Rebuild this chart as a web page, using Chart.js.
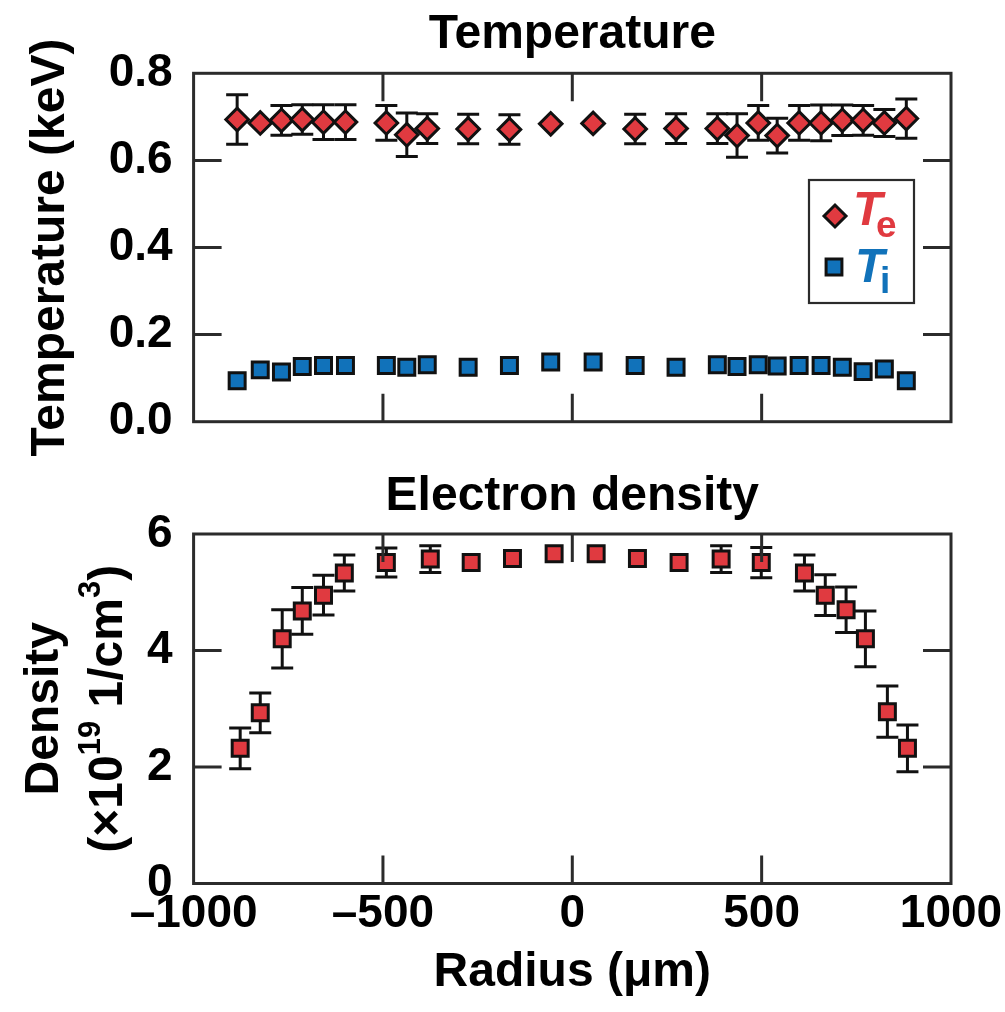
<!DOCTYPE html>
<html>
<head>
<meta charset="utf-8">
<script src="https://cdn.jsdelivr.net/npm/chart.js@4.4.0/dist/chart.umd.min.js"></script>
<style>
  html, body { margin: 0; padding: 0; background: #fff; }
  #wrap { position: relative; width: 1005px; height: 1012px; overflow: hidden; }
  canvas { position: absolute; left: 0; }
  #tempCanvas { top: 0; }
  #densCanvas { top: 460px; }
</style>
</head>
<body>
<div id="wrap">
  <canvas id="tempCanvas" width="1005" height="466"></canvas>
  <canvas id="densCanvas" width="1005" height="552"></canvas>
</div>
<script>
// ---- Temperature profile (keV) ----
const tempRadius = [-885, -824, -768, -713, -657, -599, -491, -437, -383, -275, -166, -57,
                    55, 166, 274, 383, 435, 491, 541, 599, 657, 713, 768, 824, 882];
const teValues = [0.694, 0.686, 0.692, 0.694, 0.688, 0.688, 0.686, 0.659, 0.673, 0.672, 0.671, 0.684,
                  0.685, 0.672, 0.673, 0.673, 0.657, 0.686, 0.657, 0.686, 0.686, 0.692, 0.692, 0.686, 0.696];
const teErrors = [0.057, null, 0.034, 0.034, 0.040, 0.040, 0.040, 0.050, 0.034, 0.034, 0.034, null,
                  null, 0.034, 0.034, 0.034, 0.050, 0.040, 0.040, 0.040, 0.041, 0.035, 0.034, 0.031, 0.045];
const tiValues = [0.094, 0.119, 0.114, 0.127, 0.129, 0.129, 0.129, 0.125, 0.131, 0.125, 0.129, 0.137,
                  0.137, 0.129, 0.125, 0.131, 0.127, 0.131, 0.128, 0.129, 0.129, 0.125, 0.115, 0.121, 0.094];

// ---- Electron density profile (x1e19 1/cm^3) ----
const densRadius = [-877, -824, -766, -713, -657, -602, -491, -375, -267, -158, -48,
                    63, 172, 282, 393, 499, 613, 668, 723, 774, 832, 885];
const densValues = [2.32, 2.93, 4.20, 4.68, 4.95, 5.33, 5.51, 5.57, 5.51, 5.58, 5.66,
                    5.66, 5.58, 5.51, 5.57, 5.51, 5.33, 4.95, 4.70, 4.20, 2.95, 2.32];
const densErrors = [0.35, 0.34, 0.50, 0.40, 0.34, 0.31, 0.25, 0.23, null, null, null,
                    null, null, null, 0.23, 0.26, 0.31, 0.35, 0.39, 0.48, 0.44, 0.40];

// ---- Axis ticks ----
const radiusTicks = [-1000, -500, 0, 500, 1000];
const tempTicks = [0, 0.2, 0.4, 0.6, 0.8];
const densTicks = [0, 2, 4, 6];

// Unit line under "Density": [text, isSuperscript]
const densUnitParts = [['(\u00D710', false], ['19', true], [' 1/cm', false], ['3', true], [')', false]];

const RED = '#E03A40';
const BLUE = '#1172BA';
const FRAME = '#2b2b2b';
const FONT = '"Liberation Sans", Arial, Helvetica, sans-serif';
const FS = 48;      // titles
const TS = 46;      // tick labels

Chart.defaults.font.family = FONT;
Chart.defaults.color = '#000';

const toPoints = (xs, ys) => xs.map((x, i) => ({ x: x, y: ys[i] }));
const fixedTicks = list => scale => { scale.ticks = list.map(v => ({ value: v })); };
const radiusLabel = v => (v < 0 ? '\u2013' + Math.abs(v) : String(v));

// Error bars under the markers, then the boxed frame with inward ticks on all sides.
const frameAndErrors = {
  id: 'frameAndErrors',
  beforeDatasetsDraw(chart) {
    const ctx = chart.ctx;
    const ys = chart.scales.y;
    chart.data.datasets.forEach((ds, i) => {
      if (!ds.errors) return;
      const meta = chart.getDatasetMeta(i);
      ctx.save();
      ctx.strokeStyle = '#111';
      ctx.lineWidth = 3;
      ds.data.forEach((p, j) => {
        const e = ds.errors[j];
        if (e == null) return;
        const x = meta.data[j].x;
        const yTop = ys.getPixelForValue(p.y + e);
        const yBot = ys.getPixelForValue(p.y - e);
        const cap = 11;
        ctx.beginPath();
        ctx.moveTo(x, yTop); ctx.lineTo(x, yBot);
        ctx.moveTo(x - cap, yTop); ctx.lineTo(x + cap, yTop);
        ctx.moveTo(x - cap, yBot); ctx.lineTo(x + cap, yBot);
        ctx.stroke();
      });
      ctx.restore();
    });
  },
  afterDraw(chart) {
    const ctx = chart.ctx;
    const a = chart.chartArea;
    const len = 28;
    ctx.save();
    ctx.strokeStyle = FRAME;
    ctx.lineWidth = 3;
    ctx.strokeRect(a.left, a.top, a.right - a.left, a.bottom - a.top);
    ctx.beginPath();
    const xs = chart.scales.x, ys = chart.scales.y;
    xs.ticks.forEach(t => {
      if (t.value <= xs.min || t.value >= xs.max) return;
      const px = xs.getPixelForValue(t.value);
      ctx.moveTo(px, a.bottom); ctx.lineTo(px, a.bottom - len);
      ctx.moveTo(px, a.top); ctx.lineTo(px, a.top + len);
    });
    ys.ticks.forEach(t => {
      if (t.value <= ys.min || t.value >= ys.max) return;
      const py = ys.getPixelForValue(t.value);
      ctx.moveTo(a.left, py); ctx.lineTo(a.left + len, py);
      ctx.moveTo(a.right, py); ctx.lineTo(a.right - len, py);
    });
    ctx.stroke();
    ctx.restore();
  }
};

// Boxed key for the two temperature series, with subscripted symbols.
const tempKey = {
  id: 'tempKey',
  afterDraw(chart) {
    const ctx = chart.ctx;
    ctx.save();
    ctx.strokeStyle = FRAME;
    ctx.lineWidth = 2.2;
    ctx.strokeRect(809, 180, 105, 123);

    const ds = chart.data.datasets;
    ctx.fillStyle = ds[0].backgroundColor;
    ctx.strokeStyle = '#111';
    ctx.lineWidth = 3;
    Chart.helpers.drawPoint(ctx, { pointStyle: 'rectRot', radius: 11, borderWidth: 3, rotation: 0 }, 835, 216);
    ctx.fillStyle = ds[1].backgroundColor;
    Chart.helpers.drawPoint(ctx, { pointStyle: 'rect', radius: 11.2, borderWidth: 3, rotation: 0 }, 834, 267);

    ctx.textBaseline = 'alphabetic';
    ctx.textAlign = 'left';
    ctx.fillStyle = RED;
    ctx.font = 'italic bold 48px ' + FONT;
    ctx.fillText('T', 853, 225);
    ctx.font = 'bold 37px ' + FONT;
    ctx.fillText('e', 876, 237);
    ctx.fillStyle = BLUE;
    ctx.font = 'italic bold 48px ' + FONT;
    ctx.fillText('T', 855, 282);
    ctx.font = 'bold 37px ' + FONT;
    ctx.fillText('i', 880, 293);
    ctx.restore();
  }
};

// Second line of the density axis title, rotated, with true superscripts.
const densUnitTitle = {
  id: 'densUnitTitle',
  afterDraw(chart) {
    const ctx = chart.ctx;
    const a = chart.chartArea;
    const mainFont = 'bold ' + FS + 'px ' + FONT;
    const supSize = Math.round(FS * 0.64);
    const supFont = 'bold ' + supSize + 'px ' + FONT;
    const rise = 22;
    let total = 0;
    densUnitParts.forEach(([t, sup]) => {
      ctx.font = sup ? supFont : mainFont;
      total += ctx.measureText(t).width;
    });
    ctx.save();
    ctx.translate(122, (a.top + a.bottom) / 2);
    ctx.rotate(-Math.PI / 2);
    ctx.fillStyle = '#000';
    ctx.textBaseline = 'alphabetic';
    ctx.textAlign = 'left';
    let x = -total / 2;
    densUnitParts.forEach(([t, sup]) => {
      ctx.font = sup ? supFont : mainFont;
      ctx.fillText(t, x, sup ? -rise : 0);
      x += ctx.measureText(t).width;
    });
    ctx.restore();
  }
};

const markerBase = {
  borderColor: '#111',
  borderWidth: 3,
  hoverBorderWidth: 3,
  showLine: false
};

new Chart(document.getElementById('tempCanvas'), {
  type: 'scatter',
  data: {
    datasets: [
      Object.assign({}, markerBase, {
        label: 'Te',
        data: toPoints(tempRadius, teValues),
        errors: teErrors,
        backgroundColor: RED,
        pointStyle: 'rectRot',
        pointRadius: 11.3,
        pointHoverRadius: 11.3
      }),
      Object.assign({}, markerBase, {
        label: 'Ti',
        data: toPoints(tempRadius, tiValues),
        backgroundColor: BLUE,
        pointStyle: 'rect',
        pointRadius: 11.3,
        pointHoverRadius: 11.3
      })
    ]
  },
  options: {
    responsive: false,
    animation: false,
    events: [],
    layout: { padding: { left: 0, right: 54, top: 0, bottom: 0 } },
    plugins: {
      legend: { display: false },
      tooltip: { enabled: false },
      title: {
        display: true,
        fullSize: false,
        text: 'Temperature',
        color: '#000',
        font: { size: FS, weight: 'bold', lineHeight: 1.2 },
        padding: { top: 6, bottom: 9.7 }
      }
    },
    scales: {
      x: {
        type: 'linear', min: -1000, max: 1000,
        afterBuildTicks: fixedTicks(radiusTicks),
        afterFit: s => { s.height = 44.3; },
        ticks: { display: false },
        grid: { display: false },
        border: { display: false }
      },
      y: {
        type: 'linear', min: 0, max: 0.8,
        afterBuildTicks: fixedTicks(tempTicks),
        afterFit: s => { s.width = 193.6; },
        ticks: {
          padding: 21,
          color: '#000',
          font: { size: TS, weight: 'bold', lineHeight: 1 },
          callback: v => v.toFixed(1)
        },
        grid: { display: false, drawTicks: false },
        border: { display: false },
        title: {
          display: true,
          text: 'Temperature (keV)',
          color: '#000',
          font: { size: FS, weight: 'bold', lineHeight: 1.2 },
          padding: { top: 21.5, bottom: 0 }
        }
      }
    }
  },
  plugins: [frameAndErrors, tempKey]
});

new Chart(document.getElementById('densCanvas'), {
  type: 'scatter',
  data: {
    datasets: [
      Object.assign({}, markerBase, {
        label: 'ne',
        data: toPoints(densRadius, densValues),
        errors: densErrors,
        backgroundColor: RED,
        pointStyle: 'rect',
        pointRadius: 11.3,
        pointHoverRadius: 11.3
      })
    ]
  },
  options: {
    responsive: false,
    animation: false,
    events: [],
    layout: { padding: { left: 0, right: 54, top: 0, bottom: 0 } },
    plugins: {
      legend: { display: false },
      tooltip: { enabled: false },
      title: {
        display: true,
        fullSize: false,
        text: 'Electron density',
        color: '#000',
        font: { size: FS, weight: 'bold', lineHeight: 1.2 },
        padding: { top: 8.2, bottom: 8.2 }
      }
    },
    scales: {
      x: {
        type: 'linear', min: -1000, max: 1000,
        afterBuildTicks: fixedTicks(radiusTicks),
        afterFit: s => { s.height = 128.5; },
        ticks: {
          padding: 0,
          color: '#000',
          font: { size: TS, weight: 'bold', lineHeight: 1.35 },
          maxRotation: 0,
          autoSkip: false,
          callback: radiusLabel
        },
        grid: { display: false, drawTicks: false },
        border: { display: false },
        title: {
          display: true,
          text: 'Radius (\u03BCm)',
          color: '#000',
          font: { size: FS, weight: 'bold', lineHeight: 1.2 },
          padding: { top: 0, bottom: 10 }
        }
      },
      y: {
        type: 'linear', min: 0, max: 6,
        afterBuildTicks: fixedTicks(densTicks),
        afterFit: s => { s.width = 193.6; },
        ticks: {
          padding: 21,
          color: '#000',
          font: { size: TS, weight: 'bold', lineHeight: 1 }
        },
        grid: { display: false, drawTicks: false },
        border: { display: false },
        title: {
          display: true,
          text: 'Density',
          color: '#000',
          font: { size: FS, weight: 'bold', lineHeight: 1.05 },
          padding: { top: 19.8, bottom: 0 }
        }
      }
    }
  },
  plugins: [frameAndErrors, densUnitTitle]
});
</script>
</body>
</html>
